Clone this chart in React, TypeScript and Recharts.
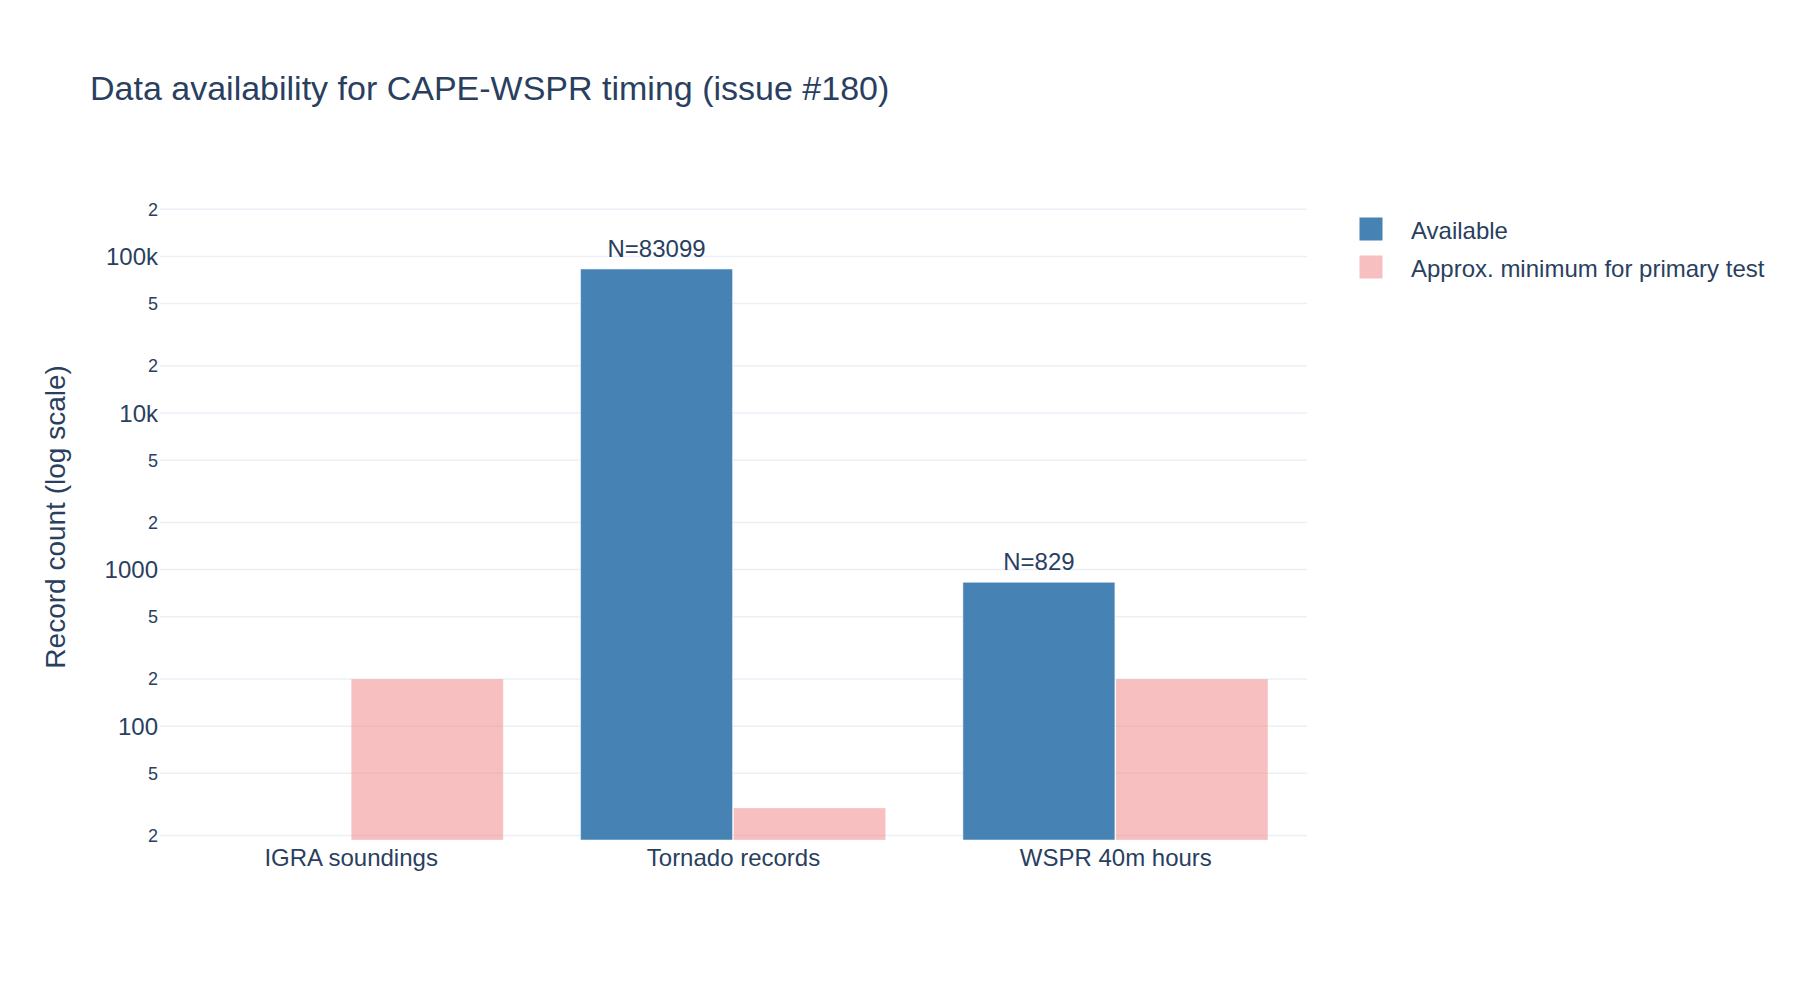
import React from 'react';
import { BarChart, Bar, XAxis, YAxis, CartesianGrid, LabelList } from 'recharts';

const categories = ['IGRA soundings', 'Tornado records', 'WSPR 40m hours'];
const availableCounts = [0, 83099, 829];
const minimumCounts = [200, 30, 200];

const yTickValues = [20, 50, 100, 200, 500, 1000, 2000, 5000, 10000, 20000, 50000, 100000, 200000];
const yTickLabels = ['2', '5', '100', '2', '5', '1000', '2', '5', '10k', '2', '5', '100k', '2'];
const yDomain = [18.74, 251189];

const TEXT = '#2a3f5f';
const FONT = '"Liberation Sans", Arial, Helvetica, sans-serif';
const BLUE = '#4682b4';
const CORAL = '#f08080';

// zero counts can't sit on a log axis, so they are left out of the bars
const rows = categories.map((name, i) => ({
  name,
  available: availableCounts[i] > 0 ? availableCounts[i] : null,
  minimum: minimumCounts[i],
}));

if (typeof document !== 'undefined') {
  document.body.style.margin = '0';
}

const YTick = ({ x, y, payload }: any) => {
  const idx = yTickValues.indexOf(payload.value);
  const label = idx >= 0 ? yTickLabels[idx] : String(payload.value);
  const major = label.length > 1;
  const fs = major ? 24 : 18;
  return (
    <text x={x - 2} y={y} dy={fs * 0.358} textAnchor="end" fontSize={fs} fill={TEXT} fontFamily={FONT}>
      {label}
    </text>
  );
};

const XTick = ({ x, y, payload }: any) => (
  <text x={x} y={y + 26} textAnchor="middle" fontSize={24} fill={TEXT} fontFamily={FONT}>
    {payload.value}
  </text>
);

const CountLabel = (props: any) => {
  const { x, y, width, value } = props;
  if (value == null || !(value > 0)) return null;
  return (
    <text x={x + width / 2} y={y - 12.5} textAnchor="middle" fontSize={24} fill={TEXT} fontFamily={FONT}>
      {`N=${value}`}
    </text>
  );
};

const legendItems = [
  { label: 'Available', color: BLUE, opacity: 1 },
  { label: 'Approx. minimum for primary test', color: CORAL, opacity: 0.5 },
];

export default function App() {
  return (
    <div style={{ position: 'relative', width: 1800, height: 1000, background: '#fff', fontFamily: FONT }}>
      <BarChart
        width={1800}
        height={1000}
        data={rows}
        margin={{ top: 193.8, right: 493, bottom: 120, left: 0 }}
        barCategoryGap="10%"
        barGap={1}
      >
        <CartesianGrid vertical={false} syncWithTicks stroke="#ebf0f8" strokeWidth={1.5} />
        <XAxis
          dataKey="name"
          height={40}
          axisLine={false}
          tickLine={false}
          tickSize={0}
          tickMargin={0}
          interval={0}
          tick={<XTick />}
        />
        <YAxis
          type="number"
          scale="log"
          domain={yDomain}
          allowDataOverflow
          ticks={yTickValues}
          interval={0}
          width={160}
          axisLine={false}
          tickLine={false}
          tickSize={0}
          tickMargin={0}
          tick={<YTick />}
          label={{
            value: 'Record count (log scale)',
            angle: -90,
            content: ({ viewBox }: any) => {
              const cy = viewBox.y + viewBox.height / 2;
              return (
                <text
                  x={65}
                  y={cy}
                  transform={`rotate(-90 65 ${cy})`}
                  textAnchor="middle"
                  fontSize={28}
                  fill={TEXT}
                  fontFamily={FONT}
                >
                  Record count (log scale)
                </text>
              );
            },
          }}
        />
        <Bar dataKey="available" name="Available" fill={BLUE} stroke="#fff" strokeWidth={0.5} isAnimationActive={false}>
          <LabelList dataKey="available" content={<CountLabel />} />
        </Bar>
        <Bar
          dataKey="minimum"
          name="Approx. minimum for primary test"
          fill={CORAL}
          fillOpacity={0.5}
          stroke="#fff"
          strokeOpacity={0.5}
          strokeWidth={0.5}
          isAnimationActive={false}
        />
      </BarChart>
      <svg width={1800} height={1000} style={{ position: 'absolute', left: 0, top: 0, pointerEvents: 'none' }}>
        <text x={90} y={100} fontSize={34} fill={TEXT} fontFamily={FONT}>
          Data availability for CAPE-WSPR timing (issue #180)
        </text>
        {legendItems.map((item, i) => (
          <g key={item.label}>
            <rect x={1359.5} y={217.5 + i * 38} width={23} height={23} fill={item.color} fillOpacity={item.opacity} />
            <text x={1411} y={238.7 + i * 38} fontSize={24} fill={TEXT} fontFamily={FONT}>
              {item.label}
            </text>
          </g>
        ))}
      </svg>
    </div>
  );
}
